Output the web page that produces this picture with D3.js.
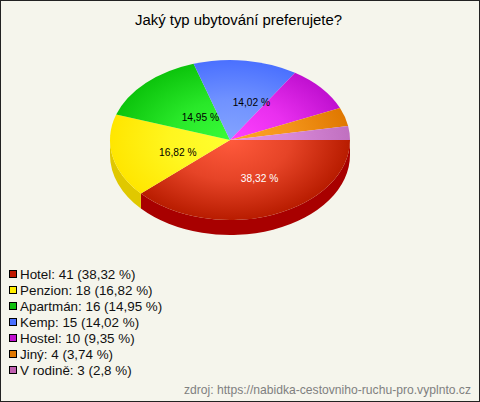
<!DOCTYPE html>
<html><head><meta charset="utf-8">
<script src="https://cdn.jsdelivr.net/npm/d3@7"></script>
<style>html,body{margin:0;padding:0;background:#f5f5ec}svg{display:block}text{font-family:"Liberation Sans",Arial,sans-serif}</style>
</head><body><svg id="c" width="480" height="402"></svg>
<script>
const categories=["Hotel","Penzion","Apartmán","Kemp","Hostel","Jiný","V rodině"];
const counts=[41,18,16,15,10,4,3];
const percents=["38,32","16,82","14,95","14,02","9,35","3,74","2,8"];
const edgeColors=["#b81c00","#ffe600","#0cc40c","#4a70ff","#c010d0","#e07800","#c070c0"];
const midColors=["#ff5a3c","#ffff30","#38fc38","#84a4ff","#ff40ff","#ffa428","#e494e4"];
const sideColors=["#a80000","#e0c800","#00a000","#2848d0","#9000a0","#b05800","#905090"];
const legendColors=["#c01800","#ffee00","#10c010","#4a70ff","#c010d0","#e07800","#c060b0"];
const labelNudge=[[8,1],[6.5,4],[12.5,5],[13.5,2]];

const W=480,H=402,cx=230,cy=140,rx=120,ry=80,depth=15,ky=ry/rx;
const svg=d3.select("#c");
svg.append("rect").attr("x",.5).attr("y",.5).attr("width",W-1).attr("height",H-1).attr("fill","#f5f5ec").attr("stroke","#222");

const arcs=d3.pie().sort(null).startAngle(Math.PI/2).endAngle(Math.PI*2.5)(counts);
const defs=svg.append("defs");
categories.forEach((c,i)=>{
 const g=defs.append("radialGradient").attr("id","g"+i).attr("gradientUnits","userSpaceOnUse")
  .attr("cx",0).attr("cy",0).attr("r",rx);
 g.append("stop").attr("offset",0).attr("stop-color",midColors[i]);
 g.append("stop").attr("offset",.5).attr("stop-color",d3.interpolateRgb(midColors[i],edgeColors[i])(.35));
 g.append("stop").attr("offset",1).attr("stop-color",edgeColors[i]);
});
const root=svg.append("g").attr("transform",`translate(${cx},${cy}) scale(1,${ky})`);
const dz=depth/ky;
arcs.forEach((a,i)=>{
 const t0=a.startAngle-Math.PI/2,t1=Math.min(a.endAngle-Math.PI/2,Math.PI);
 if(t0>=Math.PI)return;
 const p=d3.path();
 p.arc(0,0,rx,t0,t1,false);
 p.lineTo(rx*Math.cos(t1),rx*Math.sin(t1)+dz);
 p.arc(0,dz,rx,t1,t0,true);
 p.closePath();
 root.append("path").attr("d",p.toString()).attr("fill",sideColors[i]);
});
const arcGen=d3.arc().innerRadius(0).outerRadius(rx);
root.selectAll("path.s").data(arcs).join("path").attr("class","s").attr("d",arcGen).attr("fill",(d,i)=>`url(#g${i})`);

labelNudge.forEach((n,i)=>{
 const a=arcs[i],m=(a.startAngle+a.endAngle)/2-Math.PI/2;
 svg.append("text").attr("x",cx+rx*.5*Math.cos(m)+n[0]).attr("y",cy+ry*.5*Math.sin(m)+n[1]+4)
  .attr("text-anchor","middle").attr("font-size",10.2).attr("fill",i==0?"#fff":"#000").text(percents[i]+" %");
});
svg.append("text").attr("x",238.5).attr("y",25).attr("text-anchor","middle").attr("font-size",14.9).attr("fill","#000").text("Jaký typ ubytování preferujete?");
const ly=d3.scalePoint().domain(categories).range([274,370]);
categories.forEach((c,i)=>{
 svg.append("rect").attr("x",9.5).attr("y",ly(c)-3.5).attr("width",7).attr("height",7).attr("fill",legendColors[i]).attr("stroke","#000");
 svg.append("text").attr("x",20).attr("y",ly(c)+5).attr("font-size",13.4).attr("fill","#111").text(`${c}: ${counts[i]} (${percents[i]} %)`);
});
svg.append("text").attr("x",471).attr("y",394).attr("text-anchor","end").attr("font-size",12.13).attr("fill","#808080").text("zdroj: https://nabidka-cestovniho-ruchu-pro.vyplnto.cz");
</script></body></html>
